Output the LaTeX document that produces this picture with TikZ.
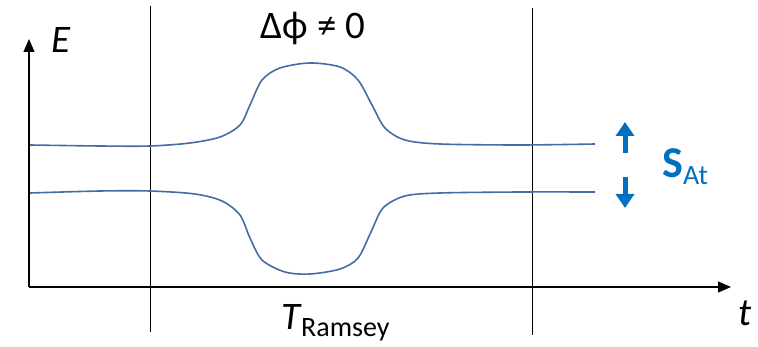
\documentclass[tikz,border=0pt]{standalone}
\usepackage{fontspec}
\setmainfont{Carlito}
\usetikzlibrary{arrows.meta}
\definecolor{curve}{RGB}{68,108,165}
\definecolor{spinblue}{RGB}{0,112,192}
\begin{document}
\begin{tikzpicture}[x=1pt,y=-1pt,
  axis/.style={line width=1.1pt,-{Triangle[length=13pt,width=11pt]}},
  vline/.style={line width=1pt},
  level/.style={curve,line width=1.6pt},
  spin/.style={spinblue,line width=5pt,-{Triangle[length=14pt,width=18pt]}},
  lbl/.style={inner sep=0pt,font=\fontsize{39}{42}\selectfont}]
\useasboundingbox (0,0) rectangle (758,347);
% axes
\coordinate (o) at (29,287);
\coordinate (ytop) at (29,39);
\coordinate (xend) at (731,287);
\draw[axis] (o) -- (ytop);
\draw[axis] (o) -- (xend);
% vertical lines
\coordinate (l1t) at (150,6);
\coordinate (l1b) at (150,332);
\coordinate (l2t) at (532,8);
\coordinate (l2b) at (532,335);
\draw[vline] (l1t) -- (l1b);
\draw[vline] (l2t) -- (l2b);
% levels
\draw[level] plot[smooth,tension=0.5] coordinates {(30,145) (100,146) (150,146) (190,143) (220,137) (240,125) (250,105) (262,80) (280,68) (310,63) (340,67) (358,80) (372,105) (385,128) (405,140) (440,144) (520,145) (595,144)};
\draw[level] plot[smooth,tension=0.5] coordinates {(30,193) (100,191) (150,191) (195,194) (222,201) (240,215) (250,238) (262,260) (285,272) (310,274) (340,269) (358,258) (371,232) (383,208) (405,196) (440,193) (520,192) (595,192)};
% spin arrows
\coordinate (upb) at (625,153);
\coordinate (upt) at (625,122);
\coordinate (dnt) at (625,177);
\coordinate (dnb) at (625,208);
\draw[spin] (upb) -- (upt);
\draw[spin] (dnt) -- (dnb);
% labels
\node[lbl,anchor=base west] (E) at (51,53) {\itshape E};
\node[lbl,anchor=base] (dphi) at (313,39) {Δϕ ≠ 0};
\node[lbl,anchor=base west] (T) at (281,330) {\itshape T\kern1pt\raisebox{-7pt}{\upshape\fontsize{28}{30}\selectfont Ramsey}};
\node[lbl,anchor=base west] (t) at (738,326) {\itshape t};
\node[lbl,anchor=base west,text=spinblue] (S) at (662,178) {\fontsize{44}{46}\selectfont\bfseries S\kern0pt\raisebox{-7pt}{\fontsize{28}{30}\selectfont\mdseries At}};
\end{tikzpicture}
\end{document}
